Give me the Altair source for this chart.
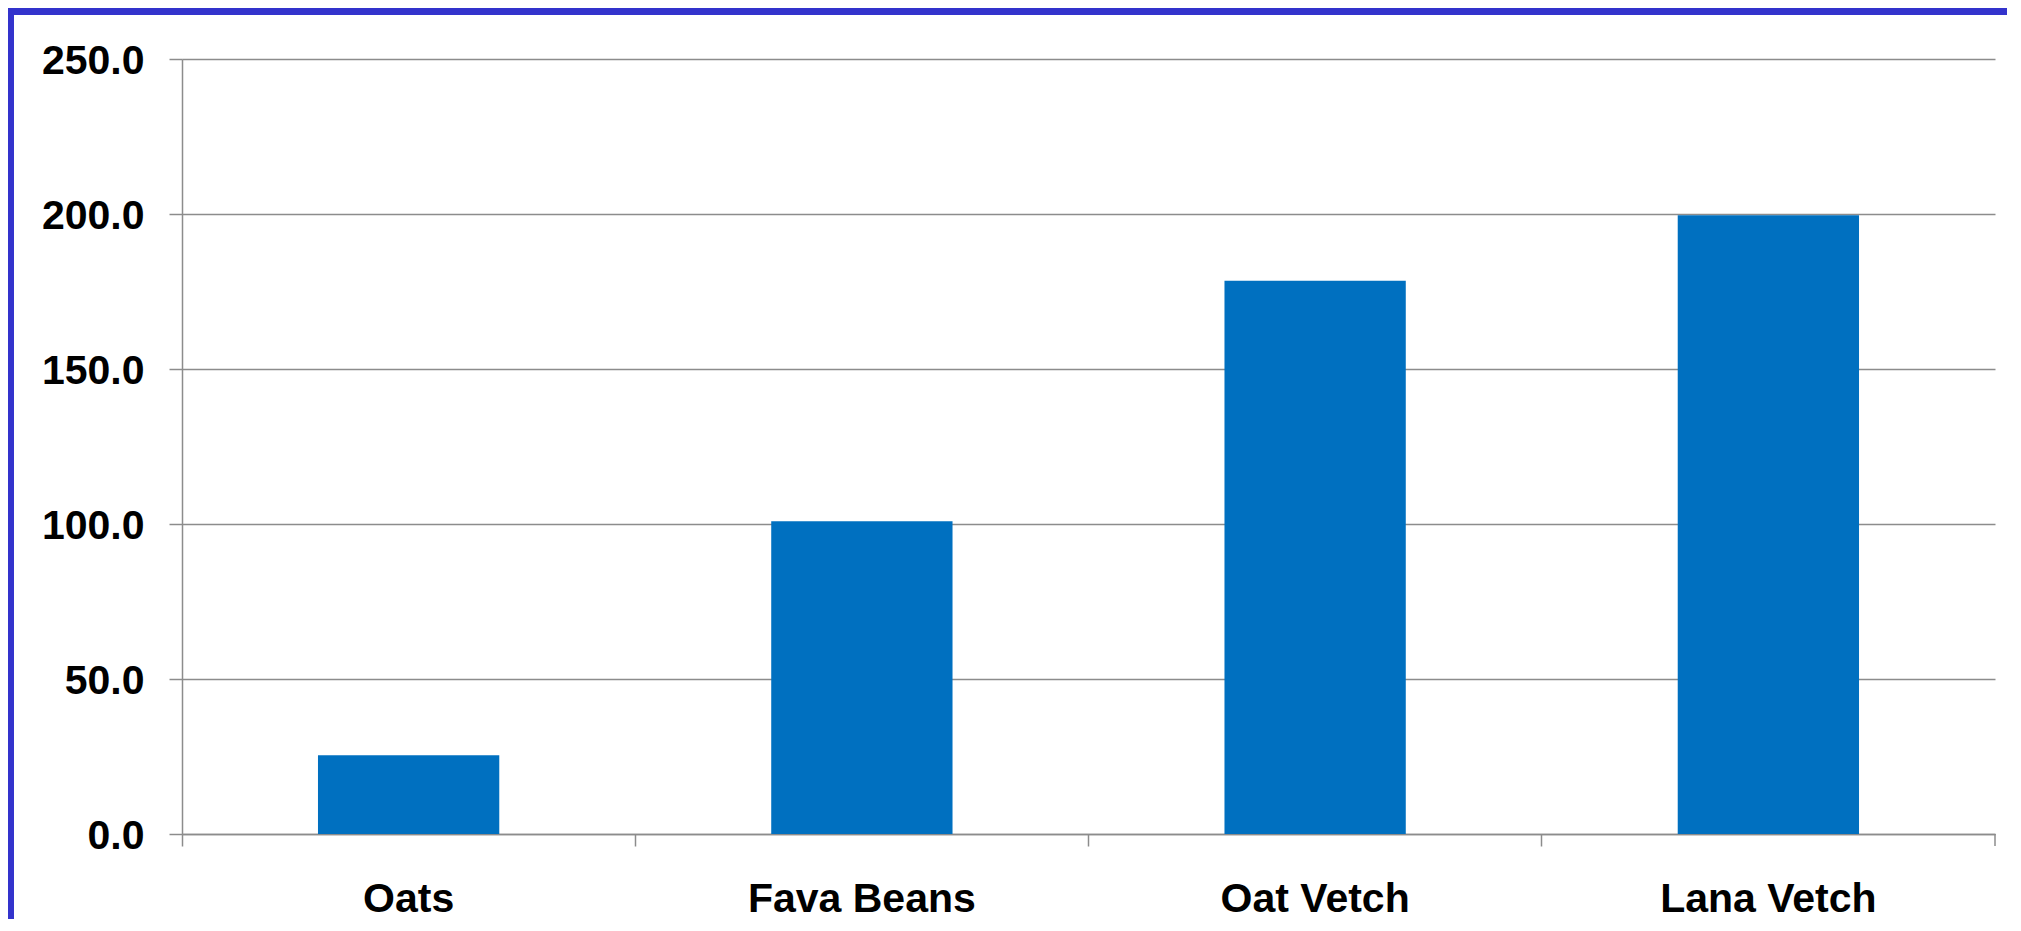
import altair as alt
import pandas as pd

crops = ["Oats", "Fava Beans", "Oat Vetch", "Lana Vetch"]
values = [25.4, 100.9, 178.5, 199.6]
y_ticks = [0, 50, 100, 150, 200, 250]

df = pd.DataFrame({"crop": crops, "value": values})

W, H = 1813, 775
PAD = {"left": 174, "top": 51, "right": 12, "bottom": 85}
FONT = "Liberation Sans"
GRID = "#8C8C8C"
BORDER = "#3333CC"

bars = alt.Chart(df).mark_bar(color="#0070C0").encode(
    x=alt.X(
        "crop:N",
        sort=crops,
        title=None,
        scale=alt.Scale(paddingInner=0.6, paddingOuter=0.3),
        axis=alt.Axis(
            labelAngle=0,
            labelFont=FONT,
            labelFontWeight="bold",
            labelFontSize=41,
            labelColor="#000000",
            labelPadding=33,
            labelBaseline="top",
            labelLimit=0,
            tickSize=12,
            tickColor=GRID,
            tickWidth=1.5,
            bandPosition=-0.75,
            domainColor=GRID,
            domainWidth=1.5,
            grid=False,
        ),
    ),
    y=alt.Y(
        "value:Q",
        title=None,
        scale=alt.Scale(domain=[0, 250], nice=False),
        axis=alt.Axis(
            values=y_ticks,
            format=".1f",
            labelFont=FONT,
            labelFontWeight="bold",
            labelFontSize=41,
            labelColor="#000000",
            labelPadding=25,
            labelOffset=2,
            tickSize=13,
            tickColor=GRID,
            tickWidth=1.5,
            domainColor=GRID,
            domainWidth=1.5,
            grid=True,
            gridColor=GRID,
            gridWidth=1.5,
        ),
    ),
)

frame_df = pd.DataFrame({"a": [0]})
end_tick = alt.Chart(frame_df).mark_rule(color=GRID, strokeWidth=1.5, clip=False).encode(
    x=alt.value(W),
    y=alt.value(H),
    y2=alt.value(H + 12),
)
top_band = alt.Chart(frame_df).mark_rule(color=BORDER, strokeWidth=7, strokeCap="butt", clip=False).encode(
    x=alt.value(-PAD["left"]),
    x2=alt.value(W + PAD["right"]),
    y=alt.value(-PAD["top"] + 3.5),
)
left_band = alt.Chart(frame_df).mark_rule(color=BORDER, strokeWidth=6, strokeCap="butt", clip=False).encode(
    x=alt.value(-PAD["left"] + 3),
    y=alt.value(-PAD["top"]),
    y2=alt.value(H + PAD["bottom"]),
)

chart = (
    alt.layer(bars, end_tick, top_band, left_band)
    .properties(
        width=W,
        height=H,
        autosize=alt.AutoSizeParams(type="none"),
        padding=PAD,
        background="#FFFFFF",
    )
    .configure_view(stroke=None)
)

chart.save("out.html", embed_options={"renderer": "svg", "actions": False})
